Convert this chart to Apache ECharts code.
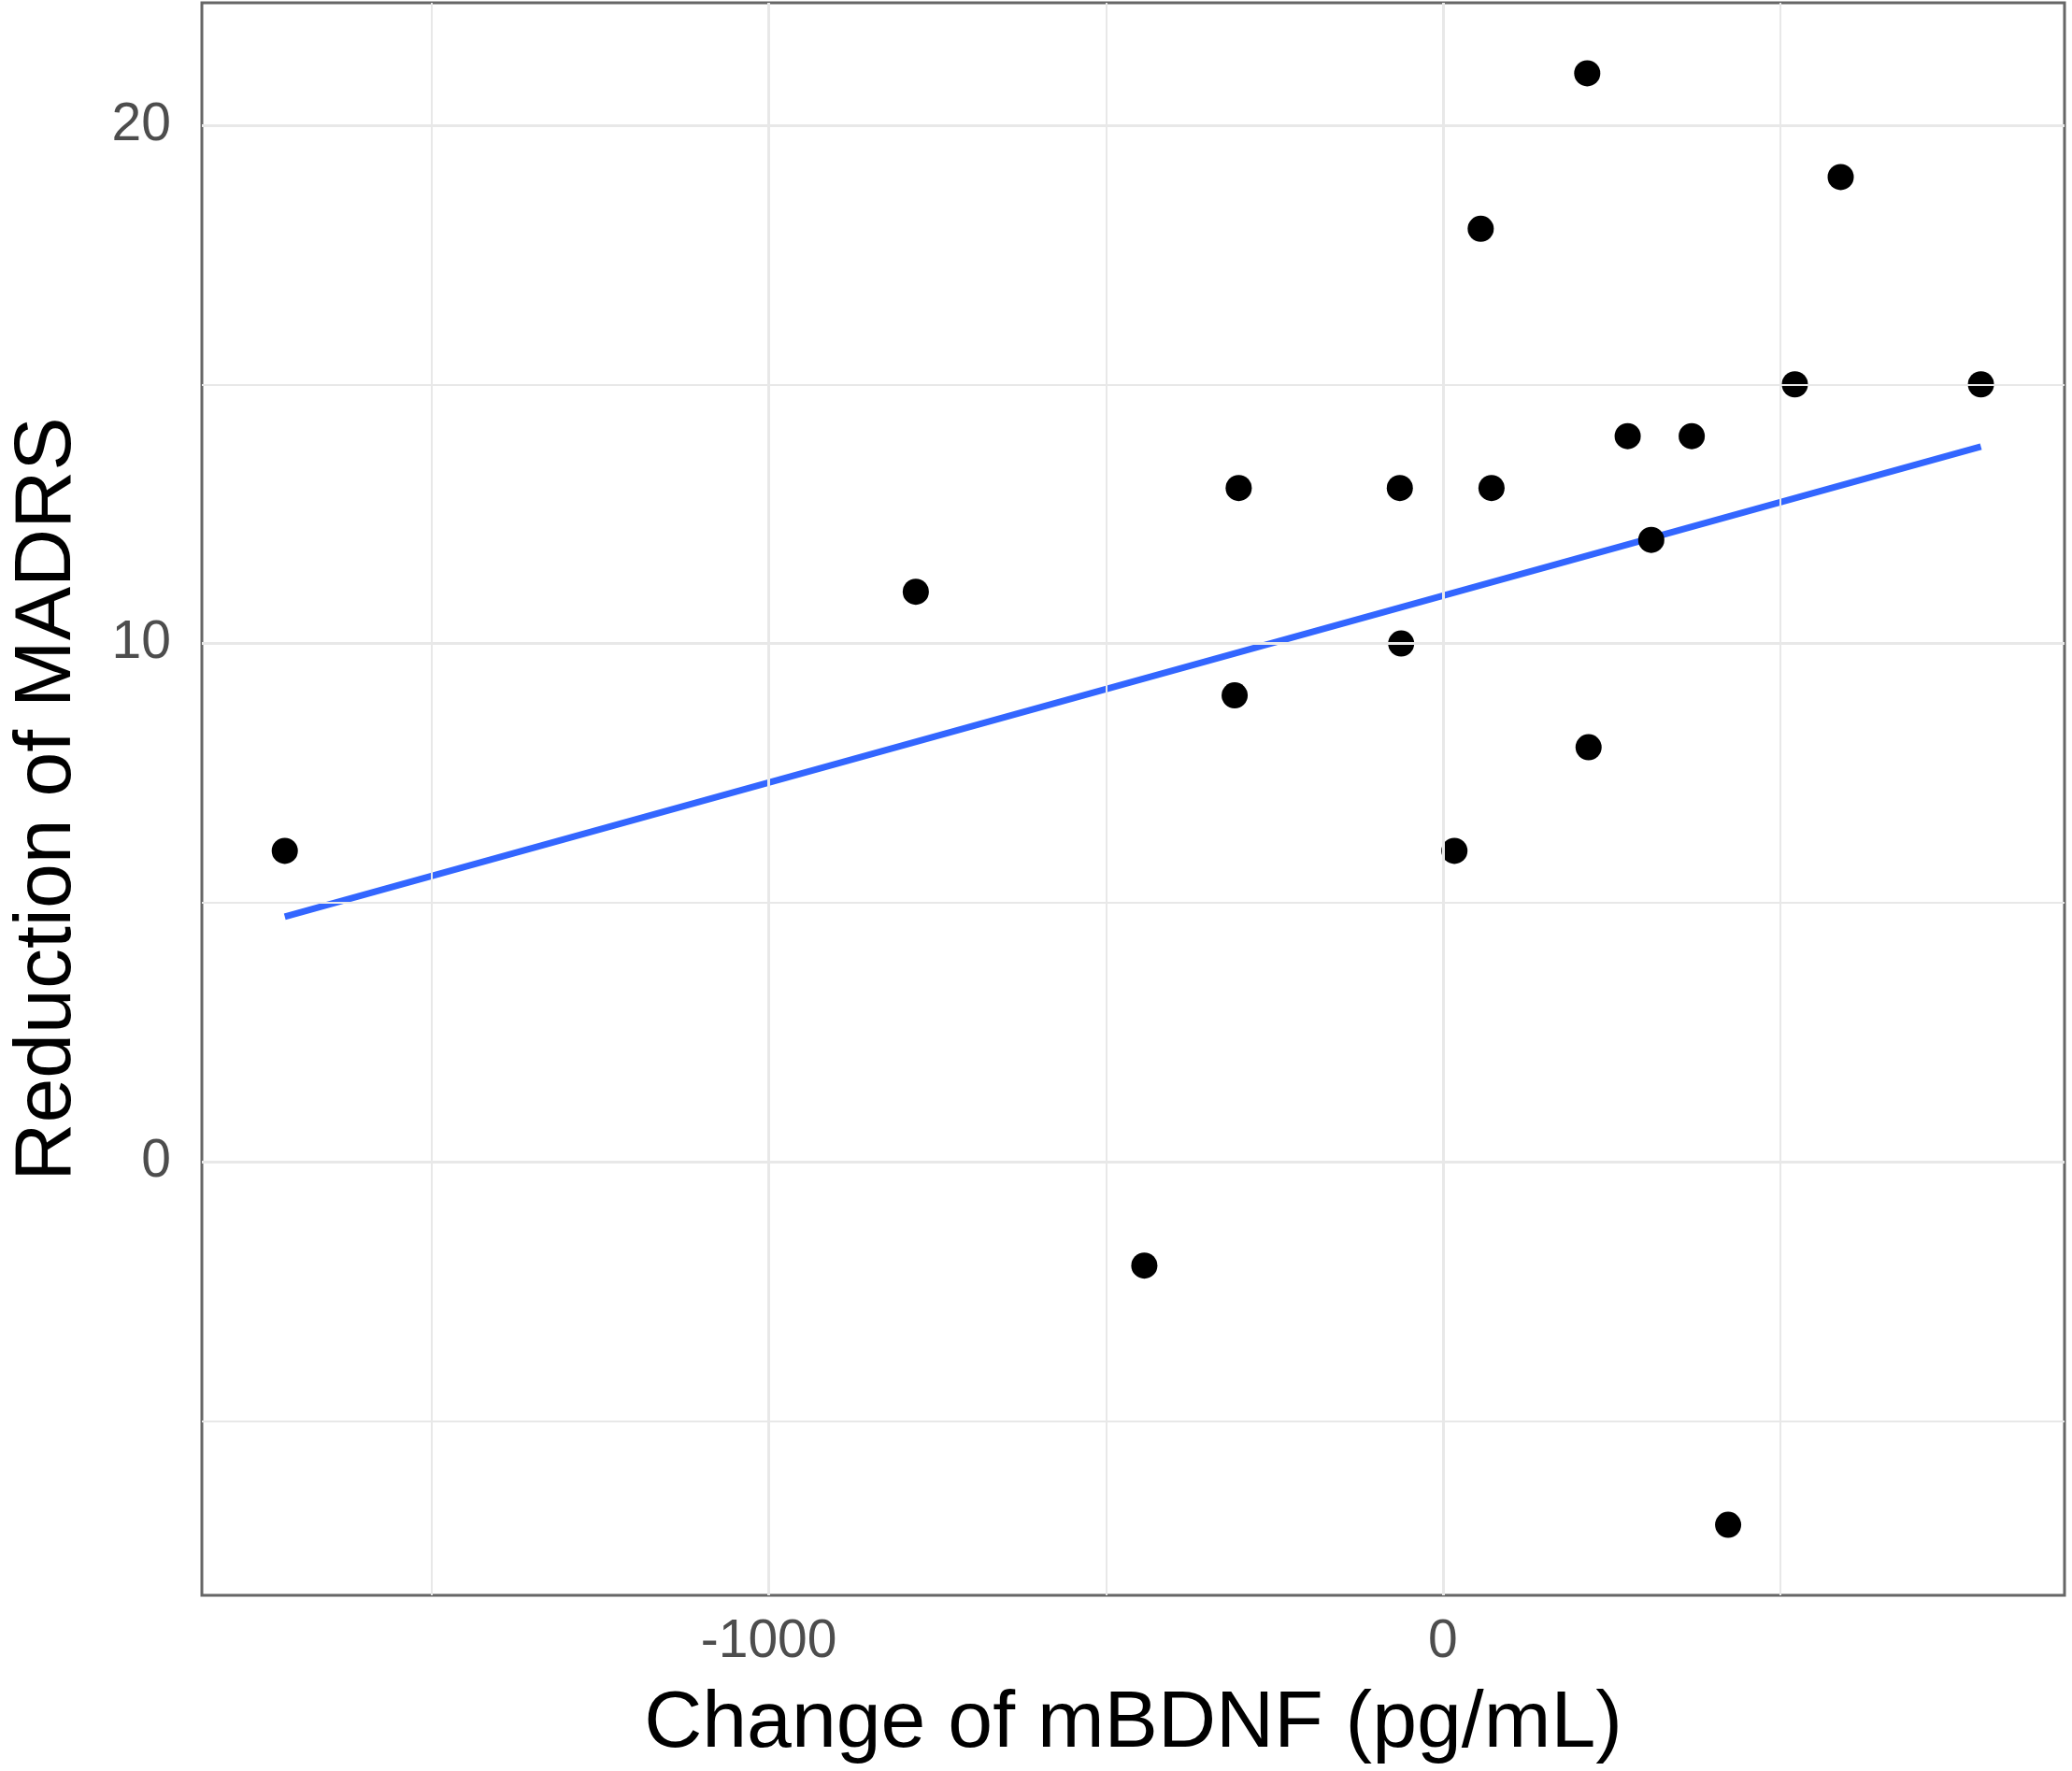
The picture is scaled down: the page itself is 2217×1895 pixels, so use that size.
<!DOCTYPE html>
<html>
<head>
<meta charset="utf-8">
<script src="https://cdn.jsdelivr.net/npm/echarts@6/dist/echarts.min.js"></script>
<style>
  html, body { margin: 0; padding: 0; background: #fff; }
  #chart { width: 2217px; height: 1895px; }
</style>
</head>
<body>
<div id="chart"></div>
<script>
    // change of mBDNF (pg/mL) for each patient
    var bdnfChange = [-1718, -782, -443, -303, -309, -64, -62, 17, 56, 72, 214, 216, 274, 309, 369, 423, 522, 590, 798];
    // reduction of MADRS for the same patients
    var madrsDrop = [6, 11, -2, 13, 9, 13, 10, 6, 18, 13, 21, 8, 14, 12, 14, -7, 15, 19, 15];

    // fitted line ends
    var fitX = [-1718, 798];
    var fitY = [4.73, 13.8];

    var xTicks = [-1000, 0];
    var yTicks = [0, 10, 20];
    var xGrid = [-1500, -1000, -500, 0, 500];
    var yGrid = [-5, 0, 5, 10, 15, 20];
    var xRange = [-1841, 922];
    var yRange = [-8.36, 22.36];

    var FONT = '"Liberation Sans", Arial, sans-serif';

    var points = [];
    for (var i = 0; i < bdnfChange.length; i++) {
        points.push([bdnfChange[i], madrsDrop[i]]);
    }
    var fitLine = [];
    for (var j = 0; j < fitX.length; j++) {
        fitLine.push([fitX[j], fitY[j]]);
    }

    var gridLines = [];
    xGrid.forEach(function (v) {
        gridLines.push({ xAxis: v, lineStyle: { width: xTicks.indexOf(v) >= 0 ? 3 : 2 } });
    });
    yGrid.forEach(function (v) {
        gridLines.push({ yAxis: v, lineStyle: { width: yTicks.indexOf(v) >= 0 ? 3 : 2 } });
    });

    var chart = echarts.init(document.getElementById('chart'));
    chart.setOption({
        animation: false,
        backgroundColor: '#ffffff',
        grid: {
            left: 198,
            right: 8,
            top: 3,
            bottom: 188,
            show: true,
            borderColor: '#666666',
            borderWidth: 3,
            backgroundColor: '#ffffff'
        },
        xAxis: {
            type: 'value',
            min: xRange[0],
            max: xRange[1],
            name: 'Change of mBDNF (pg/mL)',
            nameLocation: 'middle',
            nameGap: 95,
            nameTextStyle: { fontFamily: FONT, fontSize: 86, color: '#000' },
            axisLine: { show: false },
            axisTick: {
                show: true,
                customValues: xTicks,
                length: 14,
                lineStyle: { color: '#333', width: 3 }
            },
            axisLabel: {
                customValues: xTicks,
                margin: 22,
                fontFamily: FONT,
                fontSize: 57,
                color: '#4d4d4d',
                formatter: function (v) { return String(v); }
            },
            splitLine: { show: false }
        },
        yAxis: {
            type: 'value',
            min: yRange[0],
            max: yRange[1],
            name: 'Reduction of MADRS',
            nameLocation: 'middle',
            nameGap: 122,
            nameRotate: 90,
            nameTextStyle: { fontFamily: FONT, fontSize: 86, color: '#000' },
            axisLine: { show: false },
            axisTick: {
                show: true,
                customValues: yTicks,
                length: 14,
                lineStyle: { color: '#333', width: 3 }
            },
            axisLabel: {
                customValues: yTicks,
                margin: 33,
                fontFamily: FONT,
                fontSize: 57,
                color: '#4d4d4d',
                formatter: function (v) { return String(v); }
            },
            splitLine: { show: false }
        },
        series: [
            {
                type: 'line',
                data: [],
                silent: true,
                markLine: {
                    silent: true,
                    symbol: 'none',
                    label: { show: false },
                    lineStyle: { color: '#e8e8e8', type: 'solid' },
                    data: gridLines
                },
                z: 1
            },
            {
                type: 'line',
                data: fitLine,
                showSymbol: false,
                symbol: 'none',
                lineStyle: { color: '#3366FF', width: 7, cap: 'butt' },
                z: 3
            },
            {
                type: 'scatter',
                data: points,
                symbolSize: 28,
                itemStyle: { color: '#000000', opacity: 1 },
                z: 4
            }
        ]
    });
</script>
</body>
</html>
